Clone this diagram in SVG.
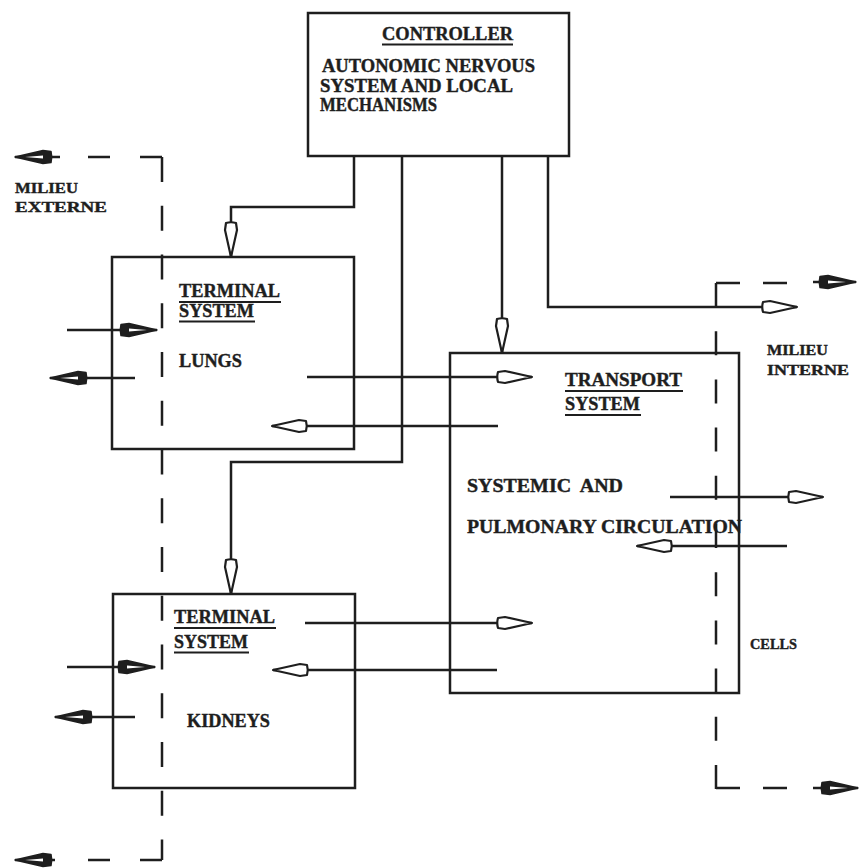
<svg xmlns="http://www.w3.org/2000/svg" width="861" height="868" viewBox="0 0 861 868">
<style>
.box{fill:none;stroke:#1e1e1e;stroke-width:2.5}
.ln{fill:none;stroke:#1e1e1e;stroke-width:2.5}
.ds{fill:none;stroke:#1e1e1e;stroke-width:2.5}
.t{font-family:"Liberation Serif","DejaVu Serif",serif;font-weight:bold;fill:#1e1e1e;stroke:#1e1e1e;stroke-width:0.4;font-size:18px}
.ts{font-family:"Liberation Serif","DejaVu Serif",serif;font-weight:bold;fill:#1e1e1e;stroke:#1e1e1e;stroke-width:0.4;font-size:15px}
.ul{stroke:#1e1e1e;stroke-width:1.8}
</style>
<defs>
<marker id="ah" markerUnits="userSpaceOnUse" markerWidth="40" markerHeight="16" refX="34" refY="0" orient="auto" overflow="visible">
<path d="M0,-5 Q-1.5,0 0,5 L7,6 L34,0 L7,-6 Z" fill="#fff" stroke="#1e1e1e" stroke-width="2.2" stroke-linejoin="round"/>
</marker>
<marker id="ahd" markerUnits="userSpaceOnUse" markerWidth="40" markerHeight="16" refX="36" refY="0" orient="auto" overflow="visible">
<path d="M0,-5.5 Q-1.5,0 0,5.5 L8,6.5 L36,0 L8,-6.5 Z" fill="#1e1e1e" stroke="#1e1e1e" stroke-width="1.5" stroke-linejoin="round"/>
<path d="M8,-1.6 L26,0 L8,1.6 Z" fill="#fff"/>
</marker>
</defs>
<rect width="861" height="868" fill="#fff"/>

<g id="controller">
<rect class="box" x="308" y="13" width="261" height="143"/>
<text class="t" x="382" y="40" font-size="16" textLength="131" lengthAdjust="spacingAndGlyphs">CONTROLLER</text>
<line class="ul" x1="382" y1="44.5" x2="513" y2="44.5"/>
<text class="t" x="322" y="72" font-size="17" textLength="213" lengthAdjust="spacingAndGlyphs">AUTONOMIC NERVOUS</text>
<text class="t" x="320" y="92" font-size="17" textLength="193" lengthAdjust="spacingAndGlyphs">SYSTEM AND LOCAL</text>
<text class="t" x="320" y="111" font-size="17" textLength="117" lengthAdjust="spacingAndGlyphs">MECHANISMS</text>
</g>

<g id="milieu-externe">
<text class="ts" x="15" y="193" textLength="63" lengthAdjust="spacingAndGlyphs">MILIEU</text>
<text class="ts" x="15" y="212" textLength="92" lengthAdjust="spacingAndGlyphs">EXTERNE</text>
</g>

<g id="milieu-interne">
<text class="ts" x="767" y="355" textLength="61" lengthAdjust="spacingAndGlyphs">MILIEU</text>
<text class="ts" x="767" y="375" textLength="82" lengthAdjust="spacingAndGlyphs">INTERNE</text>
<text class="ts" x="750" y="649" textLength="47" lengthAdjust="spacingAndGlyphs">CELLS</text>
</g>

<g id="lungs">
<rect class="box" x="112" y="257" width="242" height="192"/>
<text class="t" x="179" y="297" textLength="101" lengthAdjust="spacingAndGlyphs">TERMINAL</text>
<line class="ul" x1="179" y1="302" x2="281" y2="302"/>
<text class="t" x="179" y="317" textLength="75" lengthAdjust="spacingAndGlyphs">SYSTEM</text>
<line class="ul" x1="179" y1="321.5" x2="255" y2="321.5"/>
<text class="t" x="179" y="367" textLength="63" lengthAdjust="spacingAndGlyphs">LUNGS</text>
</g>

<g id="kidneys">
<rect class="box" x="113" y="594" width="242" height="194"/>
<text class="t" x="174" y="623" textLength="101" lengthAdjust="spacingAndGlyphs">TERMINAL</text>
<line class="ul" x1="174" y1="628" x2="276" y2="628"/>
<text class="t" x="174" y="648" textLength="74" lengthAdjust="spacingAndGlyphs">SYSTEM</text>
<line class="ul" x1="174" y1="652.5" x2="249" y2="652.5"/>
<text class="t" x="187" y="727" textLength="83" lengthAdjust="spacingAndGlyphs">KIDNEYS</text>
</g>

<g id="transport">
<rect class="box" x="450" y="353" width="289" height="340"/>
<text class="t" x="565" y="386" textLength="117" lengthAdjust="spacingAndGlyphs">TRANSPORT</text>
<line class="ul" x1="565" y1="391" x2="683" y2="391"/>
<text class="t" x="565" y="410" textLength="75" lengthAdjust="spacingAndGlyphs">SYSTEM</text>
<line class="ul" x1="565" y1="415" x2="641" y2="415"/>
<text class="t" x="467" y="492" textLength="156" lengthAdjust="spacingAndGlyphs" xml:space="preserve">SYSTEMIC  AND</text>
<text class="t" x="467" y="533" textLength="275" lengthAdjust="spacingAndGlyphs">PULMONARY CIRCULATION</text>
</g>

<g id="boundaries">
<path class="ds" d="M162,157 V860" stroke-dasharray="25 23.75"/>
<path class="ds" d="M140,157 H162 M88,157 H110 M140,860 H162 M88,860 H110"/>
<path class="ds" d="M716,283 V789" stroke-dasharray="24 24.2"/>
<path class="ds" d="M716,283 H740 M763,283 H787 M716,788 H740 M763,788 H787"/>
</g>

<g id="connectors">
<path class="ln" d="M354,156 V207 H231 V257" marker-end="url(#ah)"/>
<path class="ln" d="M402,156 V462 H231 V594" marker-end="url(#ah)"/>
<path class="ln" d="M502,156 V353" marker-end="url(#ah)"/>
<path class="ln" d="M548,156 V307 H797" marker-end="url(#ah)"/>
<path class="ln" d="M307,377 H532" marker-end="url(#ah)"/>
<path class="ln" d="M498,426 H272" marker-end="url(#ah)"/>
<path class="ln" d="M670,497 H823" marker-end="url(#ah)"/>
<path class="ln" d="M787,546 H637" marker-end="url(#ah)"/>
<path class="ln" d="M305,623 H532" marker-end="url(#ah)"/>
<path class="ln" d="M497,670 H273" marker-end="url(#ah)"/>
<path class="ln" d="M67,330 H157" marker-end="url(#ahd)"/>
<path class="ln" d="M135,378 H50" marker-end="url(#ahd)"/>
<path class="ln" d="M67,667 H155" marker-end="url(#ahd)"/>
<path class="ln" d="M135,717 H55" marker-end="url(#ahd)"/>
<path class="ln" d="M60,157 H15" marker-end="url(#ahd)"/>
<path class="ln" d="M55,860 H15" marker-end="url(#ahd)"/>
<path class="ln" d="M813,282 H856" marker-end="url(#ahd)"/>
<path class="ln" d="M813,788 H858" marker-end="url(#ahd)"/>
</g>
</svg>
